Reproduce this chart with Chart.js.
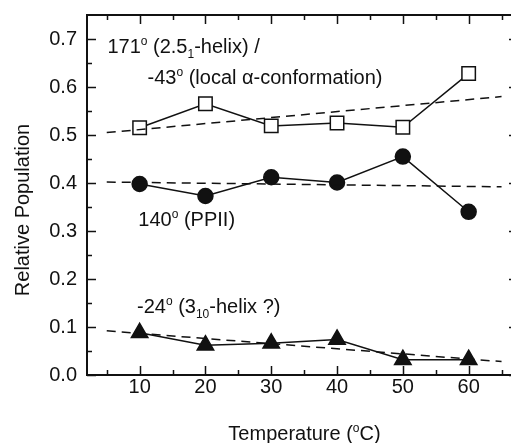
<!DOCTYPE html>
<html>
<head>
<meta charset="utf-8">
<script src="https://cdn.jsdelivr.net/npm/chart.js@4"></script>
<style>
  html, body { margin: 0; padding: 0; background: #fff; overflow: hidden; }
  #wrap { width: 511px; height: 443px; overflow: hidden; }
</style>
</head>
<body>
<div id="wrap"><canvas id="chart" width="530" height="443"></canvas></div>
<script>
// temperatures (°C)
const temps = [10, 20, 30, 40, 50, 60];
// relative populations
const helixAlpha = [0.515, 0.565, 0.519, 0.525, 0.516, 0.628]; // 171° / -43°
const ppii = [0.398, 0.373, 0.412, 0.401, 0.455, 0.340]; // 140°
const helix310 = [0.088, 0.062, 0.066, 0.074, 0.032, 0.032]; // -24°

// linear fits (end points)
const fitX = [5, 65];
const fitHelixAlpha = [0.505, 0.580];
const fitPpii = [0.402, 0.392];
const fitHelix310 = [0.092, 0.028];

// axes
const xTicks = [10, 20, 30, 40, 50, 60];
const xMinor = [5, 15, 25, 35, 45, 55, 65];
const yTicks = [0, 0.1, 0.2, 0.3, 0.4, 0.5, 0.6, 0.7];
const yMinor = [0.05, 0.15, 0.25, 0.35, 0.45, 0.55, 0.65];

const xTitle = [['Temperature (', 0], ['o', 1], ['C)', 0]];
const yTitle = 'Relative Population';

// labels inside the plot: [x value, y value, parts]
const notes = [
  [5.1, 0.671, [['171', 0], ['o', 1], [' (2.5', 0], ['1', -1], ['-helix) /', 0]]],
  [11.2, 0.606, [['-43', 0], ['o', 1], [' (local α-conformation)', 0]]],
  [9.8, 0.310, [['140', 0], ['o', 1], [' (PPII)', 0]]],
  [9.6, 0.129, [['-24', 0], ['o', 1], [' (3', 0], ['10', -1], ['-helix ?)', 0]]],
];

const FONT = '"Liberation Sans", Arial, sans-serif';
const INK = '#111';

const pts = ys => ys.map((y, i) => ({ x: temps[i], y }));
const fit = ys => ys.map((y, i) => ({ x: fitX[i], y }));

function drawRich(ctx, x, y, parts, align) {
  const big = '20px ' + FONT;
  const small = '12px ' + FONT;
  let w = 0;
  parts.forEach(([t, k]) => {
    ctx.font = k ? small : big;
    w += ctx.measureText(t).width;
  });
  let cx = align === 'center' ? x - w / 2 : x;
  ctx.textAlign = 'left';
  ctx.textBaseline = 'alphabetic';
  parts.forEach(([t, k]) => {
    ctx.font = k ? small : big;
    const dy = k === 1 ? -8 : k === -1 ? 5 : 0;
    ctx.fillText(t, cx, y + dy);
    cx += ctx.measureText(t).width;
  });
}

const frame = {
  id: 'frame',
  afterDatasetsDraw(chart) {
    const { ctx, chartArea: a, scales: { x, y } } = chart;
    ctx.save();
    ctx.strokeStyle = INK;
    ctx.lineWidth = 2;
    ctx.strokeRect(a.left, a.top, a.right - a.left, a.bottom - a.top);

    ctx.lineWidth = 1.5;
    ctx.beginPath();
    const xt = (vals, len) => vals.forEach(v => {
      const px = Math.round(x.getPixelForValue(v)) + 0.5;
      ctx.moveTo(px, a.bottom); ctx.lineTo(px, a.bottom - len);
      ctx.moveTo(px, a.top); ctx.lineTo(px, a.top + len);
    });
    const yt = (vals, len) => vals.forEach(v => {
      const py = Math.round(y.getPixelForValue(v)) + 0.5;
      ctx.moveTo(a.left, py); ctx.lineTo(a.left + len, py);
      ctx.moveTo(a.right, py); ctx.lineTo(a.right - len, py);
    });
    xt(xTicks, 9); xt(xMinor, 5);
    yt(yTicks, 9); yt(yMinor, 5);
    ctx.stroke();

    ctx.fillStyle = INK;
    notes.forEach(([vx, vy, parts]) => {
      drawRich(ctx, x.getPixelForValue(vx), y.getPixelForValue(vy), parts);
    });

    // axis titles
    drawRich(ctx, (a.left + a.right) / 2 + 2, 440, xTitle, 'center');
    ctx.translate(23, 210);
    ctx.rotate(-Math.PI / 2);
    ctx.font = '20px ' + FONT;
    ctx.textAlign = 'center';
    ctx.textBaseline = 'middle';
    ctx.fillText(yTitle, 0, 0);
    ctx.restore();
  },
};

const line = { borderColor: INK, borderWidth: 1.5, showLine: true, pointBorderColor: INK, pointBorderWidth: 1.5 };
const dashed = { borderColor: INK, borderWidth: 1.5, borderDash: [9, 6], showLine: true, pointRadius: 0, pointHoverRadius: 0 };

const ctx = document.getElementById('chart');
const chart = new Chart(ctx, {
  type: 'scatter',
  data: {
    datasets: [
      { ...dashed, data: fit(fitHelixAlpha) },
      { ...dashed, data: fit(fitPpii) },
      { ...dashed, data: fit(fitHelix310) },
      { ...line, data: pts(helixAlpha), pointStyle: 'rect', pointRadius: 9.5, pointBackgroundColor: '#fff' },
      { ...line, data: pts(ppii), pointStyle: 'circle', pointRadius: 7.5, pointBackgroundColor: INK },
      { ...line, data: pts(helix310), pointStyle: 'triangle', pointRadius: 9.5, pointBackgroundColor: INK },
    ],
  },
  options: {
    responsive: false,
    animation: false,
    devicePixelRatio: 1,
    layout: {
      padding: { top: 15, right: 12, left: 0, bottom: 0 },
    },
    scales: {
      x: {
        type: 'linear',
        min: 2,
        max: 67.5,
        grid: { display: false, drawTicks: false },
        border: { display: false },
        afterBuildTicks: s => { s.ticks = xTicks.map(v => ({ value: v })); },
        afterFit: s => { s.height = 68; s.paddingLeft = 0; s.paddingRight = 0; },
        ticks: {
          color: INK,
          padding: 0,
          font: { family: FONT, size: 20, lineHeight: 1.2 },
          callback: v => String(v),
        },
      },
      y: {
        min: 0,
        max: 0.75,
        grid: { display: false, drawTicks: false },
        border: { display: false },
        afterBuildTicks: s => { s.ticks = yTicks.map(v => ({ value: v })); },
        afterFit: s => { s.width = 87; s.paddingTop = 0; s.paddingBottom = 0; },
        ticks: {
          color: INK,
          padding: 10,
          font: { family: FONT, size: 20 },
          callback: v => v.toFixed(1),
        },
      },
    },
    plugins: {
      legend: { display: false },
      tooltip: { enabled: false },
    },
  },
  plugins: [frame],
});
</script>
</body>
</html>
